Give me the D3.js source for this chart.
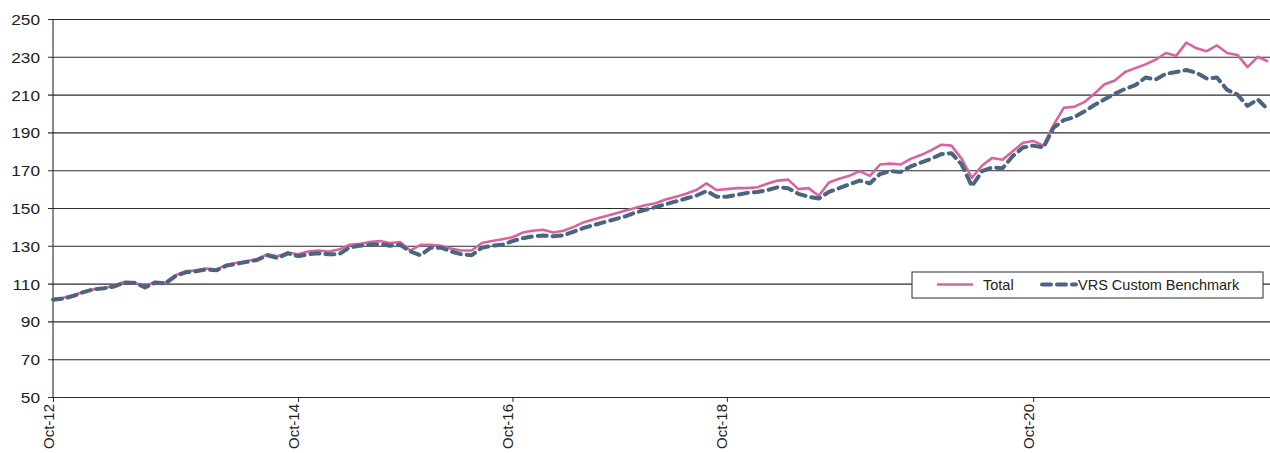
<!DOCTYPE html>
<html>
<head>
<meta charset="utf-8">
<script src="https://cdn.jsdelivr.net/npm/d3@7"></script>
<style>
  html, body { margin: 0; padding: 0; background: #fff; }
  svg { display: block; font-family: "Liberation Sans", Arial, sans-serif; }
</style>
</head>
<body>
<svg id="chart" width="1270" height="453"></svg>
<script>
// Monthly index values, one entry per period
const total = [
  102, 102.5, 104, 105.5, 107, 107.5, 109, 111, 110.5, 108.5,
  111, 110.5, 114.5, 116.5, 117, 118, 117.5, 120, 121, 122,
  123, 125.5, 124.5, 126.5, 125.5, 127, 127.5, 127, 128, 130.5,
  131, 132, 132.5, 131.5, 132, 127.5, 130.5, 130.5, 130, 128.5,
  127.5, 127.5, 131.5, 132.5, 133.5, 134.5, 137, 138, 138.5, 137,
  138, 140, 142.5, 144, 145.5, 147, 148.5, 150, 151.5, 152.5,
  154.5, 156, 157.5, 159.5, 163, 159.5, 160, 160.5, 160.5, 161,
  163, 164.5, 165, 160, 160.5, 156.5, 163.5, 165.5, 167, 169.5,
  167, 173, 173.5, 173, 176, 178, 180.5, 183.5, 183, 176,
  166, 172.5, 176.5, 175.5, 180, 184.5, 185.5, 183, 194, 203,
  203.5, 206, 210.5, 215.5, 217.5, 222, 224, 226, 228.5, 232,
  230.5, 237.5, 234.5, 233, 236, 232, 231, 224.5, 230, 227.5
];
const benchmark = [
  101.5, 102, 103.5, 105.5, 107, 107.5, 108.5, 110.5, 110.5, 108,
  110.5, 110, 114, 116, 116.5, 117.5, 117, 119.5, 120.5, 121.5,
  122.5, 125, 123.5, 126, 124.5, 125.5, 126, 125.5, 125.5, 129,
  130, 130.5, 131, 130, 130.5, 127, 125, 129, 129, 127,
  125.5, 125, 129, 130, 130.5, 132.5, 134, 135, 135.5, 135,
  135.5, 137.5, 139.5, 141, 142.5, 144, 145.5, 147.5, 149, 150.5,
  152, 153.5, 155, 156.5, 159, 156, 156, 157, 158, 158.5,
  159.5, 161, 160.5, 157.5, 156, 155, 158.5, 160.5, 162.5, 164.5,
  163, 168, 169.5, 169, 172, 174, 176, 178.5, 179, 173,
  161.5, 169.5, 171.5, 171, 177.5, 182, 183, 182, 192.5, 196.5,
  198, 201, 204.5, 207.5, 210.5, 213, 215, 219, 218, 221,
  222, 223, 221.5, 218.5, 219, 212.5, 210, 204, 207.5, 202
];
// Periods that carry a date label on the horizontal axis
const labelPeriods = [0, 24, 45, 66, 96];
const labelTexts = ["Oct-12", "Oct-14", "Oct-16", "Oct-18", "Oct-20"];
const yTicks = [50, 70, 90, 110, 130, 150, 170, 190, 210, 230, 250];
const seriesNames = ["Total", "VRS Custom Benchmark"];

const svg = d3.select("#chart");
const plotLeft = 53, plotRight = 1268, plotTop = 19, plotBottom = 397;
const pink = "#d8649f", slate = "#4b6482", ink = "#2b2b2b";

const x = d3.scaleLinear().domain([0, total.length - 1]).range([plotLeft, plotRight]);
const y = d3.scaleLinear().domain([50, 250]).range([plotBottom, plotTop]);

// Horizontal gridlines with the value axis
const yAxis = d3.axisLeft(y).tickValues(yTicks).tickSize(-(1270 - plotLeft)).tickSizeOuter(0).tickPadding(10);
const gy = svg.append("g").attr("transform", `translate(${plotLeft},0)`).call(yAxis);
gy.select(".domain").remove();
gy.selectAll(".tick line").attr("x1", -5).attr("stroke", ink).attr("stroke-width", 1.1);
gy.selectAll(".tick text")
  .attr("fill", "#222").style("font-size", "15px")
  .attr("x", 0).attr("dy", "0.36em")
  .attr("transform", "translate(-13,0) scale(1.15,1)");

// Vertical axis line
svg.append("line").attr("x1", plotLeft).attr("x2", plotLeft).attr("y1", plotTop).attr("y2", plotBottom + 1)
  .attr("stroke", ink).attr("stroke-width", 1.1);

// Date axis with rotated labels
const xAxis = d3.axisBottom(x).tickValues(labelPeriods).tickSize(5).tickSizeOuter(0)
  .tickFormat((d, i) => labelTexts[i]);
const gx = svg.append("g").attr("transform", `translate(0,${plotBottom})`).call(xAxis);
gx.select(".domain").remove();
gx.selectAll(".tick line").attr("stroke", ink);
gx.selectAll(".tick text")
  .attr("fill", "#222").style("font-size", "15px")
  .attr("text-anchor", "end")
  .attr("transform", "translate(0,7) rotate(-90)")
  .attr("x", 0).attr("y", 0).attr("dy", "0");

const line = d3.line().x((d, i) => x(i)).y(d => y(d));

svg.append("path").datum(total).attr("d", line)
  .attr("fill", "none").attr("stroke", pink).attr("stroke-width", 2.6)
  .attr("stroke-linejoin", "round");

svg.append("path").datum(benchmark).attr("d", line)
  .attr("fill", "none").attr("stroke", slate).attr("stroke-width", 4)
  .attr("stroke-dasharray", "9,6").attr("stroke-linecap", "round")
  .attr("stroke-linejoin", "round");

// Legend
const lg = svg.append("g").attr("transform", "translate(912,272)");
lg.append("rect").attr("width", 351).attr("height", 26)
  .attr("fill", "#fff").attr("stroke", ink).attr("stroke-width", 1);
lg.append("line").attr("x1", 25).attr("x2", 61).attr("y1", 12.5).attr("y2", 12.5)
  .attr("stroke", pink).attr("stroke-width", 2.6);
lg.append("text").attr("x", 71).attr("y", 18).text(seriesNames[0])
  .attr("fill", "#222").style("font-size", "14.5px");
lg.append("line").attr("x1", 130).attr("x2", 164).attr("y1", 12.5).attr("y2", 12.5)
  .attr("stroke", slate).attr("stroke-width", 4).attr("stroke-dasharray", "9,6")
  .attr("stroke-linecap", "round");
lg.append("text").attr("x", 166).attr("y", 18).text(seriesNames[1])
  .attr("fill", "#222").style("font-size", "14.5px");
</script>
</body>
</html>
